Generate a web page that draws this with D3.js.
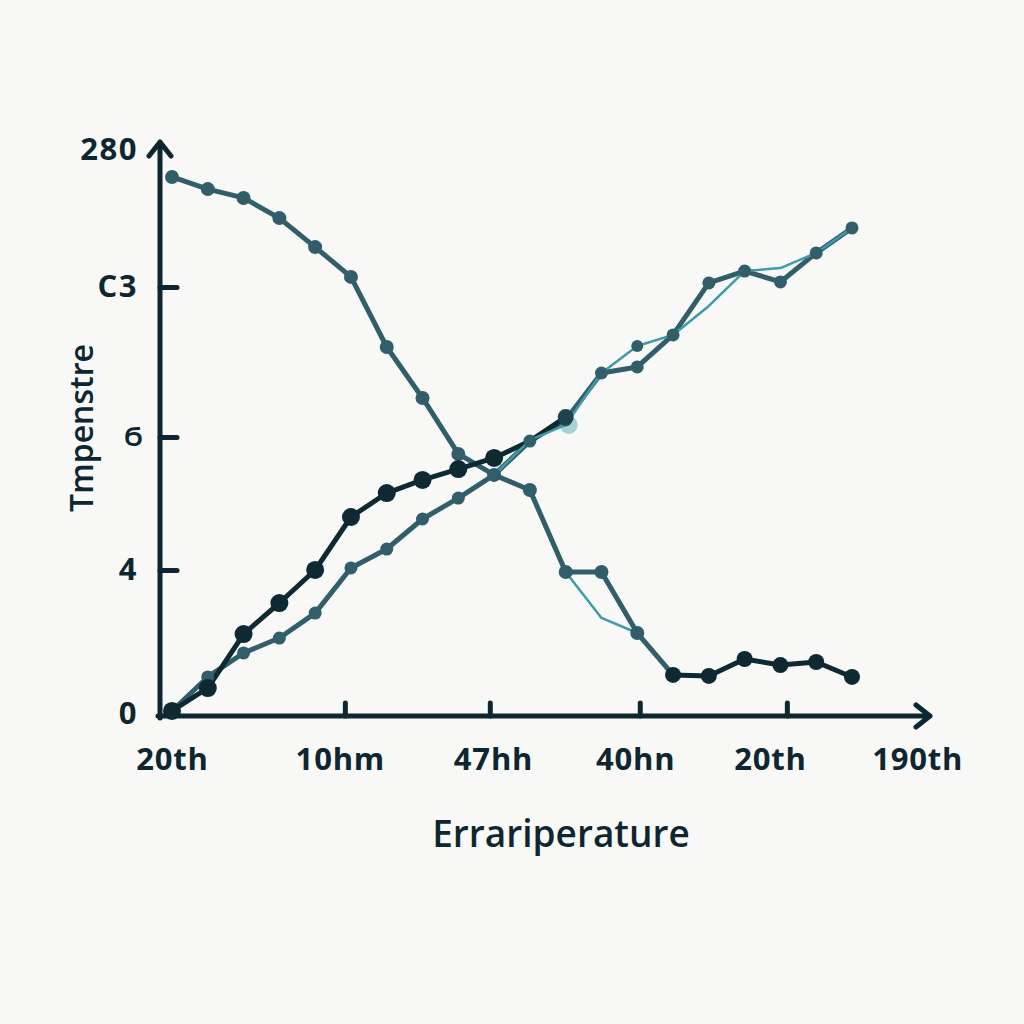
<!DOCTYPE html>
<html>
<head>
<meta charset="utf-8">
<script src="https://cdn.jsdelivr.net/npm/d3@7"></script>
<style>
  html, body { margin: 0; padding: 0; background: #f8f9f7; }
  svg { display: block; }
  text { font-family: "Open Sans", "Noto Sans", sans-serif; fill: #0e2630; }
</style>
</head>
<body>
<div id="chart"></div>
<script>
// data
var steps = [0, 1, 2, 3, 4, 5, 6, 7, 8, 9, 10, 11, 12, 13, 14, 15, 16, 17, 18, 19];
var falling = [266.6, 260.6, 256.2, 246.2, 231.8, 217.0, 182.2, 156.9, 129.1, 118.7,
               111.2, 70.5, 70.5, 40.2, 19.4, 18.9, 27.3, 24.3, 25.8, 18.4];
var rising = [1.5, 18.4, 30.3, 37.7, 50.1, 72.5, 81.9, 96.8, 107.2, 118.7,
              135.5, 146.0, 169.3, 172.3, 188.2, 214.0, 219.9, 214.5, 228.9, 241.3];
var risingDark = [1.5, 12.9, 39.7, 55.1, 71.5, 97.8, 109.7, 116.2, 121.6, 127.1,
                  135.5, 147.4, null, null, null, null, null, null, null, null];
var tealUpper = [null, null, null, null, null, null, null, null, null, 118.7,
                 136.0, 143.5, 169.3, 182.7, 188.2, 202.6, 219.9, 221.4, 228.9, 241.3];
var tealLower = [null, null, null, null, null, null, null, null, null, null,
                 null, 70.5, 47.7, 40.2, null, null, null, null, null, null];
var highlightStep = 11;

var xLabelPos = [0, 4.69, 8.97, 12.94, 16.71, 20.82];
var xLabels = ["20th", "10hm", "47hh", "40hn", "20th", "190th"];
var xTickPos = [4.83, 8.88, 13.07, 17.18];
var yLabelPos = [0, 71.5, 137.5, 212, 280];
var yLabels = ["0", "4", "Ϭ", "C3", "280"];
var yTickPos = [71.5, 137.5, 212];

var ink = "#0e2630", slate = "#325e6a", dark = "#0f2933", teal = "#3e9ba7";

var svg = d3.select("#chart").append("svg")
  .attr("width", 1024)
  .attr("height", 1024);

var x = d3.scaleLinear().domain([0, 19]).range([172, 852]);
var y = d3.scaleLinear().domain([0, 280]).range([714, 150]);

// axis lines with open arrow heads
svg.append("path")
  .attr("d", "M160,718 L160,142 M149,156 L160,142 L171,156")
  .attr("fill", "none").attr("stroke", ink).attr("stroke-width", 5)
  .attr("stroke-linecap", "round").attr("stroke-linejoin", "round");
svg.append("path")
  .attr("d", "M158,716 L930,716 M916,705 L930,716 L916,727")
  .attr("fill", "none").attr("stroke", ink).attr("stroke-width", 5)
  .attr("stroke-linecap", "round").attr("stroke-linejoin", "round");

// x labels
var gx = svg.append("g")
  .attr("transform", "translate(0,716)")
  .call(d3.axisBottom(x).tickValues(xLabelPos)
    .tickFormat(function(d, i) { return xLabels[i]; })
    .tickSize(0).tickPadding(32));
gx.select(".domain").remove();
gx.selectAll("text").attr("font-size", 31).attr("font-weight", 700)
  .attr("letter-spacing", 0.8).attr("fill", ink);

// x tick marks
var gxt = svg.append("g")
  .attr("transform", "translate(0,716)")
  .call(d3.axisBottom(x).tickValues(xTickPos).tickFormat("").tickSizeInner(-13).tickSizeOuter(0));
gxt.select(".domain").remove();
gxt.selectAll("line").attr("stroke", ink).attr("stroke-width", 5).attr("stroke-linecap", "round");

// y labels
var gy = svg.append("g")
  .attr("transform", "translate(160,0)")
  .call(d3.axisLeft(y).tickValues(yLabelPos)
    .tickFormat(function(d, i) { return yLabels[i]; })
    .tickSize(0).tickPadding(22));
gy.select(".domain").remove();
gy.selectAll("text").attr("font-size", 31).attr("font-weight", 700)
  .attr("letter-spacing", 1.5).attr("fill", ink)
  .filter(function(d, i) { return i === 2; }).attr("font-size", 25).attr("dx", 6);

// y tick marks
var gyt = svg.append("g")
  .attr("transform", "translate(160,0)")
  .call(d3.axisLeft(y).tickValues(yTickPos).tickFormat("").tickSizeInner(-17).tickSizeOuter(0));
gyt.select(".domain").remove();
gyt.selectAll("line").attr("stroke", ink).attr("stroke-width", 5).attr("stroke-linecap", "round");

// axis titles
svg.append("text")
  .attr("transform", "translate(93,428) rotate(-90)")
  .attr("text-anchor", "middle")
  .attr("font-size", 32).attr("font-weight", 600)
  .text("Tmpenstre");
svg.append("text")
  .attr("x", 561).attr("y", 847)
  .attr("text-anchor", "middle")
  .attr("font-size", 37).attr("font-weight", 600)
  .text("Errariperature");

function lineOf(values, from, to) {
  return d3.line()
    .defined(function(d, i) { return values[i] != null && i >= from && i <= to; })
    .x(function(d, i) { return x(steps[i]); })
    .y(function(d) { return y(d); })(values);
}

function drawLine(values, color, width, from, to) {
  svg.append("path")
    .attr("d", lineOf(values, from, to))
    .attr("fill", "none").attr("stroke", color).attr("stroke-width", width)
    .attr("stroke-linejoin", "round").attr("stroke-linecap", "round");
}

drawLine(rising, slate, 5, 0, 19);
drawLine(falling, slate, 5, 0, 14);
drawLine(falling, dark, 5, 14, 19);
drawLine(risingDark, dark, 5, 0, 19);
drawLine(tealUpper, teal, 2.5, 0, 19);
drawLine(tealLower, teal, 2.5, 0, 19);

function drawDots(values, color, r, from, to) {
  svg.append("g").selectAll("circle")
    .data(values.map(function(v, i) { return {i: i, v: v}; })
      .filter(function(d) { return d.v != null && d.i >= from && d.i <= to; }))
    .enter().append("circle")
    .attr("cx", function(d) { return x(steps[d.i]); })
    .attr("cy", function(d) { return y(d.v); })
    .attr("r", r)
    .attr("fill", color);
}

// pale highlight behind the teal line
svg.insert("circle", "path + path")
  .attr("cx", x(steps[highlightStep]) + 3)
  .attr("cy", y(tealUpper[highlightStep]))
  .attr("r", 9)
  .attr("fill", "#a9d2d4");

drawDots(rising, slate, 6.5, 0, 19);
drawDots(falling, slate, 7, 0, 13);
drawDots(falling, dark, 8, 14, 19);
drawDots(risingDark, dark, 9, 0, 9);
drawDots(risingDark, "#1d4350", 8, 11, 11);
drawDots(tealUpper, slate, 6, 13, 13);
</script>
</body>
</html>
